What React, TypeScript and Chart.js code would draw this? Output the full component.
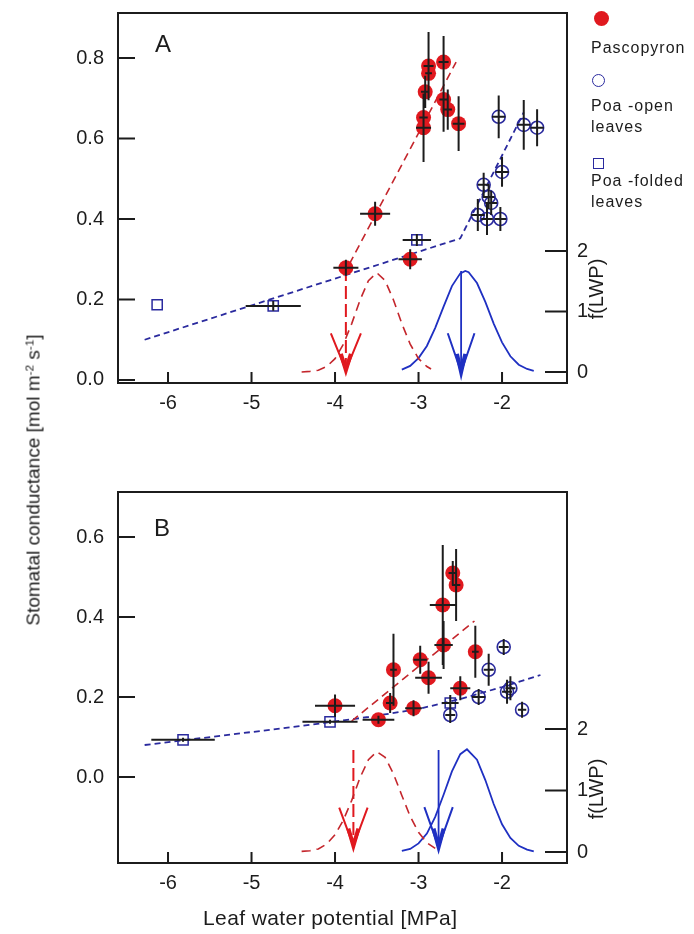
import React, { useEffect, useRef } from 'react';
import { Chart, registerables } from 'chart.js';

Chart.register(...registerables);

const FONT = '"Liberation Sans", Arial, Helvetica, sans-serif';
const RED = '#e0191f';
const RED_LINE = '#c4262c';
const NAVY = '#2a2a9e';
const BLUE = '#1f30c2';
const INK = '#1c1c1c';

// ---------- axis ticks ----------
const xTicks = [-6, -5, -4, -3, -2];
const gTicksA = [0, 0.2, 0.4, 0.6, 0.8];
const gTicksB = [0, 0.2, 0.4, 0.6];
const fTicks = [0, 1, 2];

// ---------- Panel A data ----------
const pascoA_x = [-2.88, -2.88, -2.70, -2.92, -2.70, -2.65, -2.94, -2.94, -2.52, -3.52, -3.87, -3.10];
const pascoA_y = [0.780, 0.762, 0.790, 0.716, 0.697, 0.672, 0.652, 0.627, 0.637, 0.413, 0.279, 0.300];
const pascoA_xe = [0.06, 0.04, 0.06, 0.05, 0.05, 0.05, 0.05, 0.09, 0.07, 0.18, 0.15, 0.14];
const pascoA_ye = [0.085, 0.03, 0.065, 0.04, 0.08, 0.05, 0.03, 0.085, 0.068, 0.03, 0.02, 0.025];

const poaOpenA_x = [-2.29, -2.18, -2.02, -2.16, -2.13, -2.22, -2.00, -2.04, -1.74, -1.58];
const poaOpenA_y = [0.410, 0.400, 0.400, 0.455, 0.440, 0.485, 0.517, 0.654, 0.634, 0.627];
const poaOpenA_xe = [0.08, 0.07, 0.07, 0.07, 0.07, 0.07, 0.08, 0.08, 0.08, 0.08];
const poaOpenA_ye = [0.04, 0.04, 0.03, 0.03, 0.03, 0.03, 0.037, 0.053, 0.062, 0.046];

const poaFoldA_x = [-6.13, -4.74, -3.02];
const poaFoldA_y = [0.187, 0.184, 0.348];
const poaFoldA_xe = [0, 0.33, 0.17];
const poaFoldA_ye = [0, 0.012, 0.015];

const redLineA_x = [-3.9, -2.55];
const redLineA_y = [0.26, 0.79];
const blueLineA_x = [-6.28, -2.5, -1.74];
const blueLineA_y = [0.10, 0.352, 0.665];

const redGaussA_x = [-4.4, -4.3, -4.2, -4.1, -4.0, -3.9, -3.8, -3.7, -3.6, -3.5, -3.4, -3.3, -3.2, -3.1, -3.0, -2.9, -2.85];
const redGaussA_f = [0.0, 0.01, 0.03, 0.09, 0.22, 0.46, 0.80, 1.19, 1.51, 1.64, 1.51, 1.19, 0.80, 0.46, 0.22, 0.09, 0.05];
const blueGaussA_x = [-3.2, -3.1, -3.0, -2.9, -2.8, -2.7, -2.6, -2.5, -2.44, -2.4, -2.3, -2.2, -2.1, -2.0, -1.9, -1.8, -1.7, -1.62];
const blueGaussA_f = [0.04, 0.10, 0.23, 0.43, 0.73, 1.08, 1.42, 1.63, 1.67, 1.65, 1.47, 1.16, 0.80, 0.49, 0.26, 0.12, 0.05, 0.02];

const redArrowA_x = [-3.87, -3.87];
const redArrowA_f = [1.72, 0.03];
const redHeadA_x = [-4.05, -3.87, -3.69];
const redHeadA_f = [0.64, 0.03, 0.64];
const redTipA_x = [-3.93, -3.87, -3.81];
const redTipA_f = [0.30, 0.03, 0.30];
const blueArrowA_x = [-2.49, -2.49];
const blueArrowA_f = [1.67, 0.0];
const blueHeadA_x = [-2.65, -2.49, -2.33];
const blueHeadA_f = [0.64, 0.0, 0.64];
const blueTipA_x = [-2.54, -2.49, -2.44];
const blueTipA_f = [0.30, 0.0, 0.30];

// ---------- Panel B data ----------
const pascoB_x = [-2.59, -2.55, -2.71, -2.70, -2.32, -2.98, -3.30, -2.88, -2.50, -3.34, -3.06, -4.00, -3.48];
const pascoB_y = [0.510, 0.480, 0.430, 0.330, 0.313, 0.293, 0.268, 0.248, 0.222, 0.185, 0.172, 0.178, 0.143];
const pascoB_xe = [0.05, 0.05, 0.155, 0.11, 0.04, 0.08, 0.04, 0.16, 0.12, 0.05, 0.10, 0.24, 0.19];
const pascoB_ye = [0.03, 0.09, 0.15, 0.06, 0.065, 0.035, 0.09, 0.04, 0.03, 0.025, 0.02, 0.028, 0.01];

const poaOpenB_x = [-1.98, -2.16, -2.28, -1.94, -1.90, -1.76, -2.62];
const poaOpenB_y = [0.325, 0.268, 0.200, 0.213, 0.222, 0.168, 0.155];
const poaOpenB_xe = [0.06, 0.06, 0.08, 0.06, 0.06, 0.05, 0.06];
const poaOpenB_ye = [0.02, 0.04, 0.02, 0.03, 0.03, 0.02, 0.02];

const poaFoldB_x = [-5.82, -4.06, -2.62];
const poaFoldB_y = [0.093, 0.138, 0.185];
const poaFoldB_xe = [0.38, 0.33, 0.10];
const poaFoldB_ye = [0.005, 0.005, 0.02];

const redLineB_x = [-3.8, -2.33];
const redLineB_y = [0.14, 0.39];
const blueLineB_x = [-6.28, -4.5, -3.6, -3.0, -2.5, -2.0, -1.54];
const blueLineB_y = [0.080, 0.125, 0.150, 0.170, 0.195, 0.225, 0.255];

const redGaussB_x = [-4.4, -4.3, -4.2, -4.1, -4.0, -3.9, -3.8, -3.7, -3.6, -3.5, -3.4, -3.3, -3.2, -3.1, -3.0, -2.9, -2.8];
const redGaussB_f = [0.01, 0.02, 0.05, 0.13, 0.28, 0.52, 0.84, 1.21, 1.50, 1.63, 1.54, 1.27, 0.92, 0.58, 0.32, 0.15, 0.06];
const blueGaussB_x = [-3.2, -3.1, -3.0, -2.9, -2.8, -2.7, -2.6, -2.5, -2.42, -2.3, -2.2, -2.1, -2.0, -1.9, -1.8, -1.7, -1.62];
const blueGaussB_f = [0.02, 0.05, 0.14, 0.30, 0.57, 0.93, 1.31, 1.59, 1.67, 1.50, 1.17, 0.78, 0.45, 0.23, 0.10, 0.04, 0.01];

const redArrowB_x = [-3.78, -3.78];
const redArrowB_f = [1.66, 0.10];
const redHeadB_x = [-3.95, -3.78, -3.61];
const redHeadB_f = [0.72, 0.10, 0.72];
const redTipB_x = [-3.84, -3.78, -3.72];
const redTipB_f = [0.38, 0.10, 0.38];
const blueArrowB_x = [-2.76, -2.76];
const blueArrowB_f = [1.66, 0.08];
const blueHeadB_x = [-2.93, -2.76, -2.59];
const blueHeadB_f = [0.73, 0.08, 0.73];
const blueTipB_x = [-2.82, -2.76, -2.70];
const blueTipB_f = [0.38, 0.08, 0.38];

// ---------- helpers ----------
const W = 694;
const X_MIN = -6.599;
const X_MAX = -1.222;

function pts(xs: number[], ys: number[]) {
  return xs.map((v, i) => ({ x: v, y: ys[i] }));
}

type Err = { x: number[]; y: number[]; xe: number[]; ye: number[] };

function lineDs(xs: number[], ys: number[], axis: string, color: string, width: number, dash: number[]) {
  return {
    data: pts(xs, ys),
    yAxisID: axis,
    showLine: true,
    pointRadius: 0,
    pointHoverRadius: 0,
    borderColor: color,
    backgroundColor: color,
    borderWidth: width,
    borderDash: dash,
    fill: false,
    tension: 0,
  };
}

interface PanelSpec {
  top: number;
  height: number;
  areaTop: number;
  xAxisH: number;
  gMin: number;
  gMax: number;
  gTicks: number[];
  fMin: number;
  fMax: number;
  datasets: any[];
  errs: Err[];
}

function buildConfig(s: PanelSpec): any {
  const tickFont = { family: FONT, size: 20 };
  const errPlugin = {
    id: 'errbars',
    afterDatasetsDraw(chart: any) {
      const { ctx, scales } = chart;
      const xs = scales.x;
      const ys = scales.y;
      ctx.save();
      ctx.strokeStyle = INK;
      ctx.lineWidth = 2;
      ctx.beginPath();
      for (const e of s.errs) {
        for (let i = 0; i < e.x.length; i++) {
          const px = xs.getPixelForValue(e.x[i]);
          const py = ys.getPixelForValue(e.y[i]);
          if (e.xe[i] > 0) {
            ctx.moveTo(xs.getPixelForValue(e.x[i] - e.xe[i]), py);
            ctx.lineTo(xs.getPixelForValue(e.x[i] + e.xe[i]), py);
          }
          if (e.ye[i] > 0) {
            ctx.moveTo(px, ys.getPixelForValue(e.y[i] - e.ye[i]));
            ctx.lineTo(px, ys.getPixelForValue(e.y[i] + e.ye[i]));
          }
        }
      }
      ctx.stroke();
      ctx.restore();
    },
  };
  const framePlugin = {
    id: 'frame',
    afterDraw(chart: any) {
      const { ctx, chartArea: ca, scales } = chart;
      ctx.save();
      ctx.strokeStyle = INK;
      ctx.lineWidth = 2;
      ctx.strokeRect(ca.left, ca.top, ca.right - ca.left, ca.bottom - ca.top);
      ctx.beginPath();
      scales.x.ticks.forEach((t: any) => {
        const p = scales.x.getPixelForValue(t.value);
        ctx.moveTo(p, ca.bottom);
        ctx.lineTo(p, ca.bottom - 11);
      });
      scales.y.ticks.forEach((t: any) => {
        const p = scales.y.getPixelForValue(t.value);
        ctx.moveTo(ca.left, p);
        ctx.lineTo(ca.left + 17, p);
      });
      scales.y2.ticks.forEach((t: any) => {
        const p = scales.y2.getPixelForValue(t.value);
        ctx.moveTo(ca.right, p);
        ctx.lineTo(ca.right - 22, p);
      });
      ctx.stroke();
      ctx.restore();
    },
  };
  return {
    type: 'scatter',
    data: { datasets: s.datasets },
    options: {
      animation: false,
      responsive: false,
      maintainAspectRatio: false,
      events: [],
      layout: { padding: { top: s.areaTop, left: 0, right: 0, bottom: 0 } },
      plugins: { legend: { display: false }, tooltip: { enabled: false }, title: { display: false } },
      scales: {
        x: {
          type: 'linear',
          position: 'bottom',
          min: X_MIN,
          max: X_MAX,
          afterBuildTicks: (a: any) => {
            a.ticks = xTicks.map((v) => ({ value: v }));
          },
          ticks: {
            font: tickFont,
            color: INK,
            padding: 8,
            autoSkip: false,
            maxRotation: 0,
            callback: (v: any) => String(v),
          },
          grid: { display: false, drawTicks: false },
          border: { display: false },
          afterFit: (a: any) => {
            a.height = s.xAxisH;
            a.paddingLeft = 0;
            a.paddingRight = 0;
          },
        },
        y: {
          type: 'linear',
          position: 'left',
          min: s.gMin,
          max: s.gMax,
          afterBuildTicks: (a: any) => {
            a.ticks = s.gTicks.map((v) => ({ value: v }));
          },
          ticks: {
            font: tickFont,
            color: INK,
            padding: 14,
            autoSkip: false,
            callback: (v: any) => Number(v).toFixed(1),
          },
          grid: { display: false, drawTicks: false },
          border: { display: false },
          afterFit: (a: any) => {
            a.width = 118;
            a.paddingTop = 0;
            a.paddingBottom = 0;
          },
        },
        y2: {
          type: 'linear',
          position: 'right',
          min: s.fMin,
          max: s.fMax,
          afterBuildTicks: (a: any) => {
            a.ticks = fTicks.map((v) => ({ value: v }));
          },
          ticks: {
            font: tickFont,
            color: INK,
            padding: 10,
            autoSkip: false,
            callback: (v: any) => String(v),
          },
          grid: { display: false, drawTicks: false },
          border: { display: false },
          afterFit: (a: any) => {
            a.width = W - 567;
            a.paddingTop = 0;
            a.paddingBottom = 0;
          },
        },
      },
    },
    plugins: [errPlugin, framePlugin],
  };
}

function makeDatasets(d: any) {
  return [
    {
      data: pts(d.pasco_x, d.pasco_y),
      yAxisID: 'y',
      pointStyle: 'circle',
      pointRadius: 7.5,
      pointHoverRadius: 7.5,
      backgroundColor: RED,
      borderColor: RED,
      borderWidth: 0,
      showLine: false,
    },
    {
      data: pts(d.open_x, d.open_y),
      yAxisID: 'y',
      pointStyle: 'circle',
      pointRadius: 6.5,
      pointHoverRadius: 6.5,
      backgroundColor: 'rgba(0,0,0,0)',
      borderColor: NAVY,
      borderWidth: 1.6,
      showLine: false,
    },
    {
      data: pts(d.fold_x, d.fold_y),
      yAxisID: 'y',
      pointStyle: 'rect',
      pointRadius: 7.2,
      pointHoverRadius: 7.2,
      backgroundColor: 'rgba(0,0,0,0)',
      borderColor: NAVY,
      borderWidth: 1.5,
      showLine: false,
    },
    lineDs(d.redLine_x, d.redLine_y, 'y', RED_LINE, 1.6, [8, 5]),
    lineDs(d.blueLine_x, d.blueLine_y, 'y', NAVY, 1.8, [6, 4]),
    lineDs(d.redGauss_x, d.redGauss_f, 'y2', RED_LINE, 1.6, [9, 6]),
    lineDs(d.blueGauss_x, d.blueGauss_f, 'y2', BLUE, 1.8, []),
    lineDs(d.redArrow_x, d.redArrow_f, 'y2', RED, 2, [13, 5]),
    lineDs(d.redHead_x, d.redHead_f, 'y2', RED, 2, []),
    lineDs(d.redTip_x, d.redTip_f, 'y2', RED, 4, []),
    lineDs(d.blueArrow_x, d.blueArrow_f, 'y2', BLUE, 1.8, []),
    lineDs(d.blueHead_x, d.blueHead_f, 'y2', BLUE, 2, []),
    lineDs(d.blueTip_x, d.blueTip_f, 'y2', BLUE, 4, []),
  ];
}

const specA: PanelSpec = {
  top: 0,
  height: 440,
  areaTop: 13,
  xAxisH: 440 - 383,
  gMin: -0.0075,
  gMax: 0.912,
  gTicks: gTicksA,
  fMin: -0.182,
  fMax: 5.934,
  datasets: makeDatasets({
    pasco_x: pascoA_x, pasco_y: pascoA_y,
    open_x: poaOpenA_x, open_y: poaOpenA_y,
    fold_x: poaFoldA_x, fold_y: poaFoldA_y,
    redLine_x: redLineA_x, redLine_y: redLineA_y,
    blueLine_x: blueLineA_x, blueLine_y: blueLineA_y,
    redGauss_x: redGaussA_x, redGauss_f: redGaussA_f,
    blueGauss_x: blueGaussA_x, blueGauss_f: blueGaussA_f,
    redArrow_x: redArrowA_x, redArrow_f: redArrowA_f,
    redHead_x: redHeadA_x, redHead_f: redHeadA_f,
    redTip_x: redTipA_x, redTip_f: redTipA_f,
    blueArrow_x: blueArrowA_x, blueArrow_f: blueArrowA_f,
    blueHead_x: blueHeadA_x, blueHead_f: blueHeadA_f,
    blueTip_x: blueTipA_x, blueTip_f: blueTipA_f,
  }),
  errs: [
    { x: pascoA_x, y: pascoA_y, xe: pascoA_xe, ye: pascoA_ye },
    { x: poaOpenA_x, y: poaOpenA_y, xe: poaOpenA_xe, ye: poaOpenA_ye },
    { x: poaFoldA_x, y: poaFoldA_y, xe: poaFoldA_xe, ye: poaFoldA_ye },
  ],
};

const specB: PanelSpec = {
  top: 440,
  height: 494,
  areaTop: 52,
  xAxisH: 494 - 423,
  gMin: -0.215,
  gMax: 0.7125,
  gTicks: gTicksB,
  fMin: -0.179,
  fMax: 5.854,
  datasets: makeDatasets({
    pasco_x: pascoB_x, pasco_y: pascoB_y,
    open_x: poaOpenB_x, open_y: poaOpenB_y,
    fold_x: poaFoldB_x, fold_y: poaFoldB_y,
    redLine_x: redLineB_x, redLine_y: redLineB_y,
    blueLine_x: blueLineB_x, blueLine_y: blueLineB_y,
    redGauss_x: redGaussB_x, redGauss_f: redGaussB_f,
    blueGauss_x: blueGaussB_x, blueGauss_f: blueGaussB_f,
    redArrow_x: redArrowB_x, redArrow_f: redArrowB_f,
    redHead_x: redHeadB_x, redHead_f: redHeadB_f,
    redTip_x: redTipB_x, redTip_f: redTipB_f,
    blueArrow_x: blueArrowB_x, blueArrow_f: blueArrowB_f,
    blueHead_x: blueHeadB_x, blueHead_f: blueHeadB_f,
    blueTip_x: blueTipB_x, blueTip_f: blueTipB_f,
  }),
  errs: [
    { x: pascoB_x, y: pascoB_y, xe: pascoB_xe, ye: pascoB_ye },
    { x: poaOpenB_x, y: poaOpenB_y, xe: poaOpenB_xe, ye: poaOpenB_ye },
    { x: poaFoldB_x, y: poaFoldB_y, xe: poaFoldB_xe, ye: poaFoldB_ye },
  ],
};

function Panel({ spec }: { spec: PanelSpec }) {
  const ref = useRef<HTMLCanvasElement>(null);
  useEffect(() => {
    const chart = new Chart(ref.current as HTMLCanvasElement, buildConfig(spec));
    return () => chart.destroy();
  }, [spec]);
  return (
    <canvas
      ref={ref}
      width={W}
      height={spec.height}
      style={{ position: 'absolute', left: 0, top: spec.top, width: W, height: spec.height }}
    />
  );
}

const txt = (size: number, extra: any = {}) => ({
  position: 'absolute' as const,
  font: `${size}px ${FONT}`,
  lineHeight: `${size}px`,
  color: INK,
  whiteSpace: 'nowrap' as const,
  ...extra,
});

const sup = { fontSize: '0.62em', verticalAlign: '0.55em', lineHeight: 0 };

export default function App() {
  return (
    <div style={{ position: 'absolute', left: 0, top: 0, width: W, height: 934, background: '#fff', overflow: 'hidden' }}>
      <Panel spec={specA} />
      <Panel spec={specB} />

      <div style={txt(24, { left: 155, top: 32 })}>A</div>
      <div style={txt(24, { left: 154, top: 516 })}>B</div>

      <div
        style={txt(19, {
          left: 33,
          top: 480,
          transform: 'translate(-50%, -50%) rotate(-90deg)',
        })}
      >
        Stomatal conductance [mol m<sup style={sup}>-2</sup> s<sup style={sup}>-1</sup>]
      </div>

      <div style={txt(20, { left: 596, top: 289, transform: 'translate(-50%, -50%) rotate(-90deg)' })}>f(LWP)</div>
      <div style={txt(20, { left: 596, top: 789, transform: 'translate(-50%, -50%) rotate(-90deg)' })}>f(LWP)</div>

      <div style={txt(21, { left: 203, top: 907, letterSpacing: '0.4px' })}>Leaf water potential [MPa]</div>

      {/* legend */}
      <div style={{ position: 'absolute', left: 594, top: 11, width: 15, height: 15, borderRadius: '50%', background: RED }} />
      <div style={txt(16, { left: 591, top: 40, letterSpacing: '1px' })}>Pascopyron</div>
      <div
        style={{
          position: 'absolute', left: 591.5, top: 73.5, width: 13, height: 13, borderRadius: '50%',
          border: `1.6px solid ${NAVY}`, boxSizing: 'border-box',
        }}
      />
      <div style={txt(16, { left: 591, top: 98, letterSpacing: '1px' })}>Poa -open</div>
      <div style={txt(16, { left: 591, top: 119, letterSpacing: '1px' })}>leaves</div>
      <div
        style={{
          position: 'absolute', left: 592.5, top: 157.5, width: 11, height: 11,
          border: `1.5px solid ${NAVY}`, boxSizing: 'border-box',
        }}
      />
      <div style={txt(16, { left: 591, top: 173, letterSpacing: '1px' })}>Poa -folded</div>
      <div style={txt(16, { left: 591, top: 194, letterSpacing: '1px' })}>leaves</div>
    </div>
  );
}
